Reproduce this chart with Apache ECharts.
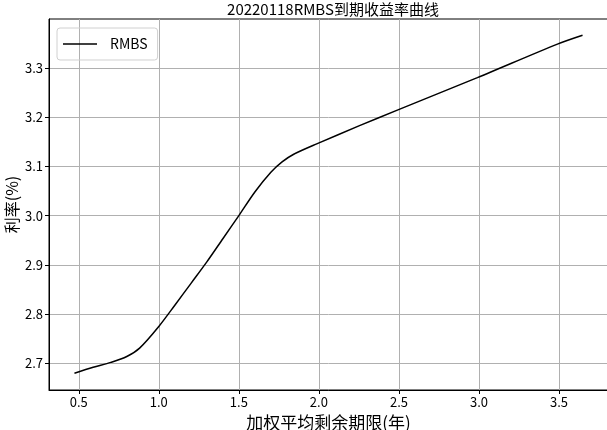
<!DOCTYPE html>
<html>
<head>
<meta charset="utf-8">
<script src="https://cdn.jsdelivr.net/npm/echarts@6/dist/echarts.min.js"></script>
<style>html,body{margin:0;padding:0;background:#fff}#c{width:607px;height:430px}</style>
</head>
<body>
<div id="c"></div>
<script>
var titleText = '20220118RMBS到期收益率曲线';
var seriesName = 'RMBS';
var xName = '加权平均剩余期限(年)';
var yName = '利率(%)';
var termYears = [0.473, 0.59, 0.70, 0.80, 0.88, 1.00, 1.10, 1.20, 1.30, 1.40, 1.50, 1.60, 1.70, 1.77, 1.84, 1.99, 2.25, 2.49, 2.99, 3.49, 3.647];
var rates =     [2.680, 2.692, 2.702, 2.714, 2.731, 2.775, 2.818, 2.862, 2.906, 2.953, 3.000, 3.048, 3.088, 3.109, 3.124, 3.146, 3.182, 3.214, 3.280, 3.348, 3.366];
var xTicks = [0.5, 1.0, 1.5, 2.0, 2.5, 3.0, 3.5];
var yTicks = [2.7, 2.8, 2.9, 3.0, 3.1, 3.2, 3.3];

var font = '"Noto Sans CJK SC", "DejaVu Sans", sans-serif';
var data = termYears.map(function (x, i) { return [x, rates[i]]; });
var chart = echarts.init(document.getElementById('c'), null, {renderer: 'canvas'});
chart.setOption({
  animation: false,
  backgroundColor: '#fff',
  textStyle: {fontFamily: font},
  title: {
    text: titleText, left: 328, top: -3, textAlign: 'center',
    textStyle: {fontFamily: font, fontSize: 15, fontWeight: 'normal', color: '#000'}
  },
  legend: {
    left: 57, top: 28, orient: 'vertical',
    padding: [9, 10, 9, 6],
    borderColor: '#d0d0d0', borderWidth: 1, borderRadius: 3,
    icon: 'rect', itemWidth: 34, itemHeight: 1.6,
    textStyle: {fontFamily: font, fontSize: 14, color: '#000', padding: [0, 0, 0, 8]},
    data: [{name: seriesName, itemStyle: {color: '#000'}}]
  },
  grid: {left: 49, top: 19, width: 559, height: 371, show: true, borderColor: '#000', borderWidth: 1, containLabel: false, outerBoundsMode: 'none'},
  xAxis: {
    type: 'value', min: 0.314, max: 3.806,
    name: xName, nameLocation: 'middle', nameGap: 24, nameMoveOverlap: false,
    nameTextStyle: {fontFamily: font, fontSize: 17, color: '#000'},
    axisLine: {show: true, onZero: false, lineStyle: {color: '#000', width: 1}},
    axisTick: {show: true, length: 4, lineStyle: {color: '#000'}, customValues: xTicks},
    axisLabel: {color: '#000', fontSize: 13, margin: 6, customValues: xTicks, formatter: function (v) { return v.toFixed(1); }},
    splitLine: {show: true, lineStyle: {color: '#b0b0b0', width: 1}}
  },
  yAxis: {
    type: 'value', min: 2.646, max: 3.399,
    name: yName, nameLocation: 'middle', nameGap: 29, nameMoveOverlap: false,
    nameTextStyle: {fontFamily: font, fontSize: 16, color: '#000'},
    axisLine: {show: true, onZero: false, lineStyle: {color: '#000', width: 1}},
    axisTick: {show: true, length: 4, lineStyle: {color: '#000'}, customValues: yTicks},
    axisLabel: {color: '#000', fontSize: 13, margin: 6, customValues: yTicks, formatter: function (v) { return v.toFixed(1); }},
    splitLine: {show: true, lineStyle: {color: '#b0b0b0', width: 1}}
  },
  series: [{
    name: seriesName, type: 'line', data: data, smooth: 0.3, symbol: 'none',
    lineStyle: {color: '#000', width: 1.5}, itemStyle: {color: '#000'}
  }]
});
</script>
</body>
</html>
